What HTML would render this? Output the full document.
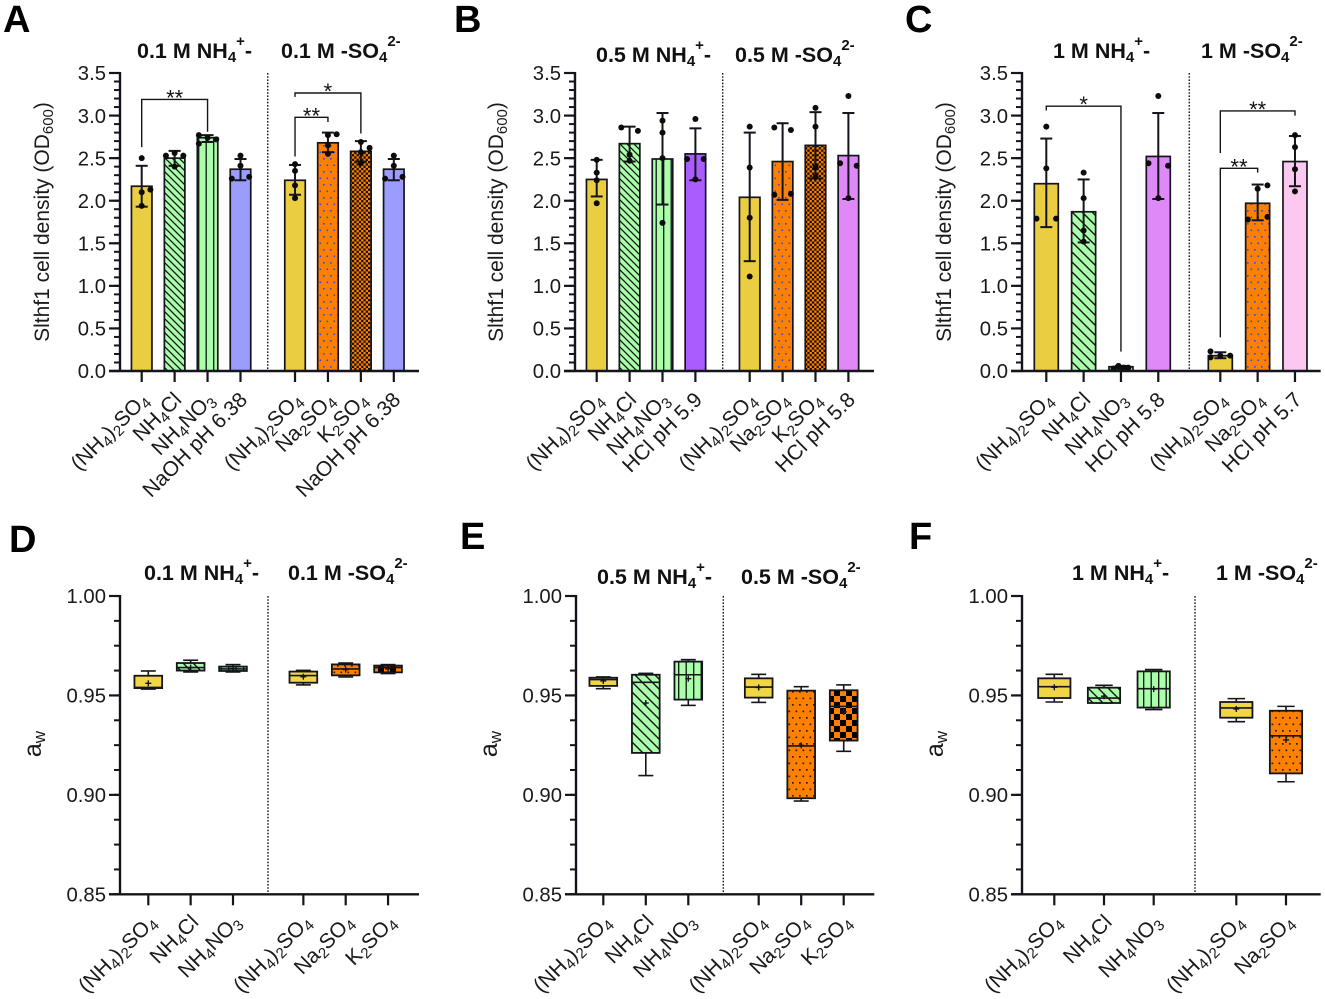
<!DOCTYPE html>
<html lang="en">
<head>
<meta charset="utf-8">
<title>Slthf1 cell density and water activity</title>
<style>
html,body{margin:0;padding:0;background:#fff;}
svg{display:block;font-family:"Liberation Sans",Arial,sans-serif;}
.title{font-size:21.5px;font-weight:bold;fill:#111;}
.letter{font-size:38px;font-weight:bold;fill:#000;}
.ytitle{font-size:21px;fill:#1a1a1a;}
</style>
</head>
<body>
<svg id="figure" width="1325" height="999" viewBox="0 0 1325 999" xmlns="http://www.w3.org/2000/svg">
<defs>
<pattern id="diag" width="7" height="7" patternUnits="userSpaceOnUse"><rect width="7" height="7" fill="#aaffaa"/><path d="M0 0L7 7M-2 5L2 9M5 -2L9 2" stroke="#111" stroke-width="1.3"/></pattern>
<pattern id="diagWide" width="10" height="10" patternUnits="userSpaceOnUse"><rect width="10" height="10" fill="#aaffaa"/><path d="M0 0L10 10M-2 8L2 12M8 -2L12 2" stroke="#111" stroke-width="1.4"/></pattern>
<pattern id="vert" width="7.5" height="8" patternUnits="userSpaceOnUse"><rect width="7.5" height="8" fill="#aaffaa"/><path d="M3.7 0V8" stroke="#111" stroke-width="1.3"/></pattern>
<pattern id="dotBlue" width="7" height="13" patternUnits="userSpaceOnUse"><rect width="7" height="13" fill="#ff8000"/><rect x="1" y="2" width="1.6" height="1.6" fill="#2a50e0"/><rect x="4.5" y="8.5" width="1.6" height="1.6" fill="#2a50e0"/></pattern>
<pattern id="dotBlack" width="7" height="13" patternUnits="userSpaceOnUse"><rect width="7" height="13" fill="#ff8000"/><rect x="1" y="2" width="1.7" height="1.7" fill="#222"/><rect x="4.5" y="8.5" width="1.7" height="1.7" fill="#222"/></pattern>
<pattern id="checkFine" width="4.6" height="4.6" patternUnits="userSpaceOnUse"><rect width="4.6" height="4.6" fill="#ff8000"/><rect width="2.3" height="2.3" fill="#1a1000"/><rect x="2.3" y="2.3" width="2.3" height="2.3" fill="#1a1000"/></pattern>
<pattern id="checkBold" width="12" height="12" patternUnits="userSpaceOnUse"><rect width="12" height="12" fill="#ff8000"/><rect width="6" height="6" fill="#000"/><rect x="6" y="6" width="6" height="6" fill="#000"/></pattern>
</defs>

<text class="letter" x="3" y="32">A</text>
<text class="letter" x="454" y="32">B</text>
<text class="letter" x="905" y="32">C</text>
<text class="letter" x="9" y="552">D</text>
<text class="letter" x="460" y="549">E</text>
<text class="letter" x="909" y="549">F</text>

<text class="title" x="137" y="58">0.1 M NH<tspan dy="4" font-size="15">4</tspan><tspan dy="-16" font-size="15">+</tspan><tspan dy="12">-</tspan></text>
<text class="title" x="281" y="58">0.1 M -SO<tspan dy="4" font-size="15">4</tspan><tspan dy="-16" font-size="15">2-</tspan></text>
<text class="title" x="596" y="62">0.5 M NH<tspan dy="4" font-size="15">4</tspan><tspan dy="-16" font-size="15">+</tspan><tspan dy="12">-</tspan></text>
<text class="title" x="735" y="62">0.5 M -SO<tspan dy="4" font-size="15">4</tspan><tspan dy="-16" font-size="15">2-</tspan></text>
<text class="title" x="1053" y="58">1 M NH<tspan dy="4" font-size="15">4</tspan><tspan dy="-16" font-size="15">+</tspan><tspan dy="12">-</tspan></text>
<text class="title" x="1201" y="58">1 M -SO<tspan dy="4" font-size="15">4</tspan><tspan dy="-16" font-size="15">2-</tspan></text>
<text class="title" x="144" y="580">0.1 M NH<tspan dy="4" font-size="15">4</tspan><tspan dy="-16" font-size="15">+</tspan><tspan dy="12">-</tspan></text>
<text class="title" x="288" y="580">0.1 M -SO<tspan dy="4" font-size="15">4</tspan><tspan dy="-16" font-size="15">2-</tspan></text>
<text class="title" x="597" y="584">0.5 M NH<tspan dy="4" font-size="15">4</tspan><tspan dy="-16" font-size="15">+</tspan><tspan dy="12">-</tspan></text>
<text class="title" x="741" y="584">0.5 M -SO<tspan dy="4" font-size="15">4</tspan><tspan dy="-16" font-size="15">2-</tspan></text>
<text class="title" x="1072" y="580">1 M NH<tspan dy="4" font-size="15">4</tspan><tspan dy="-16" font-size="15">+</tspan><tspan dy="12">-</tspan></text>
<text class="title" x="1216" y="580">1 M -SO<tspan dy="4" font-size="15">4</tspan><tspan dy="-16" font-size="15">2-</tspan></text>

<text class="ytitle" text-anchor="middle" transform="translate(49,222) rotate(-90)">Slthf1 cell density (OD<tspan dy="4" font-size="15">600</tspan><tspan dy="-4">)</tspan></text>
<text class="ytitle" text-anchor="middle" transform="translate(503,222) rotate(-90)">Slthf1 cell density (OD<tspan dy="4" font-size="15">600</tspan><tspan dy="-4">)</tspan></text>
<text class="ytitle" text-anchor="middle" transform="translate(951,222) rotate(-90)">Slthf1 cell density (OD<tspan dy="4" font-size="15">600</tspan><tspan dy="-4">)</tspan></text>
<text class="ytitle" text-anchor="middle" style="font-size:25px" transform="translate(41,744) rotate(-90)">a<tspan dy="4" font-size="17">w</tspan></text>
<text class="ytitle" text-anchor="middle" style="font-size:25px" transform="translate(497,744) rotate(-90)">a<tspan dy="4" font-size="17">w</tspan></text>
<text class="ytitle" text-anchor="middle" style="font-size:25px" transform="translate(943,744) rotate(-90)">a<tspan dy="4" font-size="17">w</tspan></text>
</svg>

<script>
// ---------- axis tick labels ----------
const barTickValues = [0, 0.5, 1, 1.5, 2, 2.5, 3, 3.5];
const barTickLabels = ['0.0', '0.5', '1.0', '1.5', '2.0', '2.5', '3.0', '3.5'];
const boxTickValues = [0.85, 0.90, 0.95, 1.00];
const boxTickLabels = ['0.85', '0.90', '0.95', '1.00'];

// ---------- panel A ----------
const panelACategories = ['(NH_4)_2SO_4', 'NH_4Cl', 'NH_4NO_3', 'NaOH pH 6.38', '(NH_4)_2SO_4', 'Na_2SO_4', 'K_2SO_4', 'NaOH pH 6.38'];
const panelAMeans = [2.17, 2.50, 2.74, 2.37, 2.24, 2.68, 2.58, 2.37];
const panelAErrHigh = [2.41, 2.585, 2.77, 2.49, 2.42, 2.80, 2.70, 2.49];
const panelAErrLow = [1.93, 2.41, 2.69, 2.24, 2.07, 2.57, 2.46, 2.24];
const panelAPoints = [[2.50, 2.10, 2.13, 1.94], [2.53, 2.56, 2.53, 2.40], [2.77, 2.74, 2.72, 2.67], [2.53, 2.41, 2.26, 2.28], [2.43, 2.35, 2.18, 2.03], [2.77, 2.78, 2.65, 2.55], [2.69, 2.62, 2.57, 2.44], [2.53, 2.41, 2.26, 2.28]];
const panelASlots = [[0, 0, 1, 0], [-1, 0, 1, 0], [-1, 0, 1, -1], [0, 0, -1, 1], [0, 0, 0, 0], [0, 1, 0, 0], [0, 1, 0, 0], [0, 0, -1, 1]];
const panelABrackets = [[0, 2, 3.19, 2.63, 2.81, '**'], [4, 6, 3.265, 3.22, 2.79, '*'], [4, 5, 2.98, 2.52, 2.925, '**']];

// ---------- panel B ----------
const panelBCategories = ['(NH_4)_2SO_4', 'NH_4Cl', 'NH_4NO_3', 'HCl pH 5.9', '(NH_4)_2SO_4', 'Na_2SO_4', 'K_2SO_4', 'HCl pH 5.8'];
const panelBMeans = [2.25, 2.67, 2.49, 2.55, 2.04, 2.46, 2.65, 2.53];
const panelBErrHigh = [2.48, 2.87, 3.03, 2.85, 2.80, 2.91, 3.04, 3.03];
const panelBErrLow = [2.05, 2.46, 1.955, 2.24, 1.29, 2.01, 2.26, 2.02];
const panelBPoints = [[2.48, 2.33, 2.24, 1.97], [2.86, 2.82, 2.54, 2.47], [2.94, 2.80, 2.50, 1.74], [2.96, 2.49, 2.49, 2.25], [2.87, 2.39, 1.80, 1.11], [2.86, 2.83, 2.07, 2.08], [3.09, 2.87, 2.39, 2.28], [3.23, 2.44, 2.41, 2.03]];
const panelBSlots = [[0, 0, 0, 0], [-1, 1, 0, 0], [0, 0, 0, 0], [0, -1, 1, 0], [0, 0, 0, 0], [-1, 1, -1, 1], [0, 0, 0, 0], [0, -1, 1, 0]];
const panelBBrackets = [];

// ---------- panel C ----------
const panelCCategories = ['(NH_4)_2SO_4', 'NH_4Cl', 'NH_4NO_3', 'HCl pH 5.8', '(NH_4)_2SO_4', 'Na_2SO_4', 'HCl pH 5.7'];
const panelCMeans = [2.20, 1.87, 0.05, 2.52, 0.18, 1.97, 2.46];
const panelCErrHigh = [2.73, 2.25, 0.06, 3.03, 0.22, 2.19, 2.76];
const panelCErrLow = [1.69, 1.51, 0.02, 2.02, 0.15, 1.77, 2.17];
const panelCPoints = [[2.87, 2.38, 1.79, 1.79], [2.33, 2.03, 1.65, 1.52], [0.03, 0.06, 0.04, 0.04], [3.23, 2.44, 2.41, 2.03], [0.23, 0.16, 0.18, 0.18], [2.18, 2.14, 1.78, 1.81], [2.77, 2.63, 2.37, 2.11]];
const panelCSlots = [[0, 0, -1, 1], [0, 0, 0, 0], [-0.75, -0.25, 0.25, 0.75], [0, -1, 1, 0], [-1, -1, 0, 1], [1, 0, -1, 1], [0, 0, 0, 0]];
const panelCBrackets = [[0, 2, 3.11, 3.06, 0.227, '*'], [4, 6, 3.055, 2.56, 3.0, '**'], [4, 5, 2.38, 0.395, 2.33, '**']];

// ---------- panel D ----------
const panelDCategories = ['(NH_4)_2SO_4', 'NH_4Cl', 'NH_4NO_3', '(NH_4)_2SO_4', 'Na_2SO_4', 'K_2SO_4'];
const panelDWhiskerHigh = [0.9623, 0.9677, 0.9655, 0.9626, 0.9663, 0.9655];
const panelDQ3 = [0.9599, 0.9663, 0.9645, 0.9620, 0.9656, 0.9650];
const panelDMedian = [0.9540, 0.9640, 0.9633, 0.9600, 0.9633, 0.9640];
const panelDQ1 = [0.9537, 0.9625, 0.9623, 0.9564, 0.9601, 0.9616];
const panelDWhiskerLow = [0.9532, 0.9618, 0.9618, 0.9553, 0.9593, 0.9610];
const panelDMean = [0.9561, 0.9640, 0.9635, 0.9594, 0.9630, 0.9633];

// ---------- panel E ----------
const panelECategories = ['(NH_4)_2SO_4', 'NH_4Cl', 'NH_4NO_3', '(NH_4)_2SO_4', 'Na_2SO_4', 'K_2SO_4'];
const panelEWhiskerHigh = [0.9593, 0.9611, 0.9680, 0.9606, 0.9544, 0.9553];
const panelEQ3 = [0.9589, 0.9604, 0.9670, 0.9586, 0.9524, 0.9526];
const panelEMedian = [0.9580, 0.9566, 0.9604, 0.9542, 0.9246, 0.9445];
const panelEQ1 = [0.9548, 0.9211, 0.9479, 0.9489, 0.8983, 0.9273];
const panelEWhiskerLow = [0.9534, 0.9097, 0.9450, 0.9465, 0.8969, 0.9219];
const panelEMean = [0.9573, 0.9462, 0.9584, 0.9540, 0.9249, 0.9417];

// ---------- panel F ----------
const panelFCategories = ['(NH_4)_2SO_4', 'NH_4Cl', 'NH_4NO_3', '(NH_4)_2SO_4', 'Na_2SO_4'];
const panelFWhiskerHigh = [0.9606, 0.9551, 0.9630, 0.9484, 0.9445];
const panelFQ3 = [0.9586, 0.9539, 0.9621, 0.9467, 0.9423];
const panelFMedian = [0.9544, 0.9487, 0.9534, 0.9437, 0.9297];
const panelFQ1 = [0.9487, 0.9462, 0.9439, 0.9388, 0.9108];
const panelFWhiskerLow = [0.9467, 0.9462, 0.9429, 0.9368, 0.9066];
const panelFMean = [0.9541, 0.9496, 0.9532, 0.9432, 0.9276];

// ---------- drawing ----------
const NS = 'http://www.w3.org/2000/svg';
const figure = document.getElementById('figure');
const INK = '#14141c';
const YELLOW = '#ebcd42';
const YELLOW_BOX = '#f0d646';

function make(tag, parent, attrs) {
  const node = document.createElementNS(NS, tag);
  Object.keys(attrs).forEach(function (k) { node.setAttribute(k, attrs[k]); });
  parent.appendChild(node);
  return node;
}

function richText(node, str) {
  const parts = str.split(/_(\d)/);
  let shifted = false;
  parts.forEach(function (part, i) {
    if (!part) return;
    const span = document.createElementNS(NS, 'tspan');
    span.textContent = part;
    if (i % 2 === 1) {
      span.setAttribute('dy', '4');
      span.setAttribute('font-size', '15');
      shifted = true;
    } else if (shifted) {
      span.setAttribute('dy', '-4');
      shifted = false;
    }
    node.appendChild(span);
  });
}

function seg(parent, x1, y1, x2, y2, width, extra) {
  const attrs = { x1: x1, y1: y1, x2: x2, y2: y2, stroke: INK, 'stroke-width': width };
  if (extra) attrs['stroke-dasharray'] = extra;
  return make('line', parent, attrs);
}

function drawAxes(name, g, cfg, yScale, xScale, tickValues, tickLabels, minorStep, vMin, vMax) {
  const y0 = yScale(vMin);
  const yAxis = make('g', g, {});
  
  
  const yLine = seg(yAxis, cfg.axisX, yScale(vMax) - 1, cfg.axisX, y0 + 1, 2.4);
  
  
  const minorCount = Math.round((vMax - vMin) / minorStep);
  for (let m = 0; m <= minorCount; m++) {
    const mv = vMin + m * minorStep;
    const minor = seg(yAxis, cfg.axisX - 6, yScale(mv), cfg.axisX, yScale(mv), 2);
    
    
  }
  tickValues.forEach(function (v, i) {
    const tick = seg(yAxis, cfg.axisX - 11, yScale(v), cfg.axisX, yScale(v), 2.2);
    
    
    const label = make('text', yAxis, { x: cfg.axisX - 14, y: yScale(v) + 7.2, 'text-anchor': 'end', 'font-size': 20.3, fill: '#1a1a1a' });
    label.textContent = tickLabels[i];
    
    
  });
  const xAxis = make('g', g, {});
  
  
  const xLine = seg(xAxis, cfg.axisX - 11, y0, cfg.endX, y0, 2.4);
  
  
  cfg.categories.forEach(function (c, i) {
    const cx = xScale(i);
    const tick = seg(xAxis, cx, y0, cx, y0 + 11, 2.2);
    
    
    const label = make('text', xAxis, { 'text-anchor': 'end', 'font-size': 21, fill: '#1a1a1a', transform: 'translate(' + (cx + cfg.labelShift) + ',' + (y0 + cfg.labelDrop) + ') rotate(-45)' });
    richText(label, c);
    
    
  });
  const divider = seg(g, cfg.dividerX, yScale(vMax), cfg.dividerX, y0, 1.4, '1.6 1.6');
  
  
}

function drawBarPanel(name, cfg) {
  const g = make('g', figure, {});
  
  
  const yScale = function (v) { return 371 - v * (298 / 3.5); };
  const xScale = function (i) { return cfg.firstX + cfg.step * i + (i >= cfg.split ? cfg.gap : 0); };
  cfg.means.forEach(function (mean, i) {
    const cx = xScale(i);
    const bg = make('g', g, {});
    
    
    const bar = make('rect', bg, { x: cx - cfg.barWidth / 2, y: yScale(mean), width: cfg.barWidth, height: yScale(0) - yScale(mean), fill: cfg.fills[i], stroke: INK, 'stroke-width': 1.7 });
    
    
    const stem = seg(bg, cx, yScale(cfg.errHigh[i]), cx, yScale(cfg.errLow[i]), 2);
    
    
    const capHigh = seg(bg, cx - 6, yScale(cfg.errHigh[i]), cx + 6, yScale(cfg.errHigh[i]), 2);
    
    
    const capLow = seg(bg, cx - 6, yScale(cfg.errLow[i]), cx + 6, yScale(cfg.errLow[i]), 2);
    
    
    cfg.points[i].forEach(function (p, j) {
      const dot = make('circle', bg, { cx: cx + cfg.slots[i][j] * cfg.slotWidth, cy: yScale(p), r: 3, fill: '#0c0c0c' });
      
      
    });
  });
  drawAxes(name, g, cfg, yScale, xScale, barTickValues, barTickLabels, 0.1, 0, 3.5);
  cfg.brackets.forEach(function (b) {
    const x1 = xScale(b[0]);
    const x2 = xScale(b[1]);
    const path = make('path', g, { d: 'M' + x1 + ' ' + yScale(b[3]) + 'V' + yScale(b[2]) + 'H' + x2 + 'V' + yScale(b[4]), fill: 'none', stroke: INK, 'stroke-width': 1.4 });
    
    
    const star = make('text', g, { x: (x1 + x2) / 2, y: yScale(b[2]) + 6, 'text-anchor': 'middle', 'font-size': 22, fill: '#111' });
    star.textContent = b[5];
    
    
  });
}

function drawBoxPanel(name, cfg) {
  const g = make('g', figure, {});
  
  
  const yScale = function (v) { return 894.3 - (v - 0.85) * (298.3 / 0.15); };
  const xScale = function (i) { return cfg.firstX + cfg.step * i + (i >= cfg.split ? cfg.gap : 0); };
  cfg.median.forEach(function (med, i) {
    const cx = xScale(i);
    const w = cfg.boxWidth;
    const bg = make('g', g, {});
    
    
    const whisker = seg(bg, cx, yScale(cfg.high[i]), cx, yScale(cfg.low[i]), 1.6);
    
    
    const capHigh = seg(bg, cx - w * 0.27, yScale(cfg.high[i]), cx + w * 0.27, yScale(cfg.high[i]), 1.6);
    
    
    const capLow = seg(bg, cx - w * 0.27, yScale(cfg.low[i]), cx + w * 0.27, yScale(cfg.low[i]), 1.6);
    
    
    const box = make('rect', bg, { x: cx - w / 2, y: yScale(cfg.q3[i]), width: w, height: yScale(cfg.q1[i]) - yScale(cfg.q3[i]), fill: cfg.fills[i], stroke: INK, 'stroke-width': 1.8 });
    
    
    const medLine = seg(bg, cx - w / 2, yScale(med), cx + w / 2, yScale(med), 1.6);
    
    
    const my = yScale(cfg.mean[i]);
    const meanH = seg(bg, cx - 3, my, cx + 3, my, 1.4);
    
    
    const meanV = seg(bg, cx, my - 3, cx, my + 3, 1.4);
    
    
  });
  drawAxes(name, g, cfg, yScale, xScale, boxTickValues, boxTickLabels, 0.0125, 0.85, 1.0);
}

drawBarPanel('panel-a', {
  axisX: 120, endX: 419, firstX: 141.7, step: 32.93, gap: 21.6, split: 4, barWidth: 20.5, dividerX: 267.7, labelDrop: 30, labelShift: 8, slotWidth: 8.7,
  categories: panelACategories, means: panelAMeans, errHigh: panelAErrHigh, errLow: panelAErrLow, points: panelAPoints, slots: panelASlots, brackets: panelABrackets,
  fills: [YELLOW, 'url(#diag)', 'url(#vert)', '#9c9cff', YELLOW, 'url(#dotBlue)', 'url(#checkFine)', '#9c9cff']
});
drawBarPanel('panel-b', {
  axisX: 575, endX: 874, firstX: 596.7, step: 32.9, gap: 21.4, split: 4, barWidth: 20.5, dividerX: 722.7, labelDrop: 30, labelShift: 8, slotWidth: 8.3,
  categories: panelBCategories, means: panelBMeans, errHigh: panelBErrHigh, errLow: panelBErrLow, points: panelBPoints, slots: panelBSlots, brackets: panelBBrackets,
  fills: [YELLOW, 'url(#diag)', 'url(#vert)', '#ab5cff', YELLOW, 'url(#dotBlue)', 'url(#checkFine)', '#df88f7']
});
drawBarPanel('panel-c', {
  axisX: 1022, endX: 1320.7, firstX: 1046.3, step: 37.33, gap: 24.7, split: 4, barWidth: 24, dividerX: 1189.3, labelDrop: 30, labelShift: 8, slotWidth: 9.8,
  categories: panelCCategories, means: panelCMeans, errHigh: panelCErrHigh, errLow: panelCErrLow, points: panelCPoints, slots: panelCSlots, brackets: panelCBrackets,
  fills: [YELLOW, 'url(#diagWide)', 'url(#diagWide)', '#df88f7', YELLOW, 'url(#dotBlue)', '#fbc9f0']
});
drawBoxPanel('panel-d', {
  axisX: 120, endX: 419, firstX: 148.3, step: 42.35, gap: 28, split: 3, boxWidth: 27.7, dividerX: 268, labelDrop: 29, labelShift: 9,
  categories: panelDCategories, high: panelDWhiskerHigh, q3: panelDQ3, median: panelDMedian, q1: panelDQ1, low: panelDWhiskerLow, mean: panelDMean,
  fills: [YELLOW_BOX, 'url(#diagWide)', 'url(#vert)', YELLOW_BOX, 'url(#dotBlack)', 'url(#checkBold)']
});
drawBoxPanel('panel-e', {
  axisX: 576, endX: 874.3, firstX: 603.3, step: 42.5, gap: 27.9, split: 3, boxWidth: 27.7, dividerX: 723.3, labelDrop: 29, labelShift: 9,
  categories: panelECategories, high: panelEWhiskerHigh, q3: panelEQ3, median: panelEMedian, q1: panelEQ1, low: panelEWhiskerLow, mean: panelEMean,
  fills: [YELLOW_BOX, 'url(#diagWide)', 'url(#vert)', YELLOW_BOX, 'url(#dotBlack)', 'url(#checkBold)']
});
drawBoxPanel('panel-f', {
  axisX: 1022, endX: 1320.7, firstX: 1054.3, step: 49.7, gap: 32.9, split: 3, boxWidth: 32.3, dividerX: 1195, labelDrop: 29, labelShift: 9,
  categories: panelFCategories, high: panelFWhiskerHigh, q3: panelFQ3, median: panelFMedian, q1: panelFQ1, low: panelFWhiskerLow, mean: panelFMean,
  fills: [YELLOW_BOX, 'url(#diagWide)', 'url(#vert)', YELLOW_BOX, 'url(#dotBlack)']
});
</script>
</body>
</html>
